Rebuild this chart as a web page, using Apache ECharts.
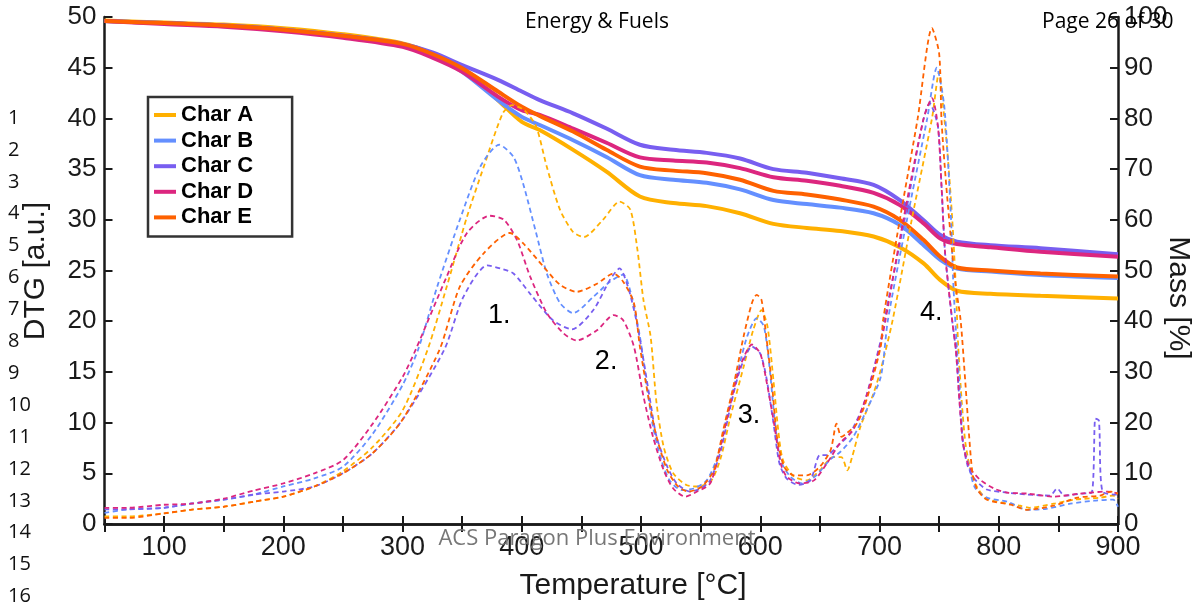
<!DOCTYPE html>
<html>
<head>
<meta charset="utf-8">
<script src="https://cdn.jsdelivr.net/npm/echarts@6/dist/echarts.min.js"></script>
</head>
<body style="margin:0;background:#fff">
<div id="chart" style="width:1196px;height:606px"></div>
<script>
// mass curves (right axis, %), common temperature grid
const massTemp = [50,100,150,200,250,300,325,350,380,400,415,443,471,499,527,555,583,611,639,667,695,717,737,751,765,793,835,900];
const massA = [99.3,98.9,98.5,97.8,96.6,94.8,92.8,89.9,83.6,79.3,77.7,73.8,69.5,64.6,63.3,62.7,61.3,59.2,58.4,57.8,56.7,54.6,51.4,48.1,46.0,45.4,45.0,44.5];
const massB = [99.2,98.8,98.3,97.5,96.3,94.6,92.5,89.2,83.6,80.3,78.7,75.7,72.4,68.8,67.9,67.3,66.0,63.9,63.1,62.4,61.3,59.0,55.0,52.1,50.4,49.8,49.1,48.5];
const massC = [99.2,98.8,98.3,97.5,96.3,94.7,93.0,90.5,87.6,85.3,83.6,81.0,78.0,74.8,73.8,73.2,72.1,70.0,69.3,68.2,66.9,63.9,59.9,57.0,55.7,55.0,54.4,53.2];
const massD = [99.2,98.6,98.1,97.2,95.9,94.1,92.0,89.2,84.3,81.6,80.7,78.0,75.2,72.3,71.7,71.3,70.2,68.4,67.7,66.7,65.3,62.9,59.3,56.3,55.2,54.6,53.7,52.7];
const massE = [99.2,98.8,98.3,97.5,96.3,94.7,92.7,89.9,85.3,82.3,80.5,77.4,73.8,70.5,69.7,69.2,67.9,65.7,65.0,64.0,62.6,60.0,56.0,52.7,50.6,50.0,49.4,48.8];

// DTG curves (left axis), [temperature, value]
const dtgA = [[50,0.75],[70,0.75],[100,1.05],[122,1.4],[150,1.7],[175,2.2],[200,2.7],[226,3.7],[250,5.2],[275,7.6],[300,11.2],[321,17.2],[337,23.4],[354,30.3],[368,35.2],[384,40.5],[392,41.3],[402,40.8],[412,39.2],[421,35.2],[432,31.0],[443,28.8],[452,28.3],[468,30.0],[482,31.8],[491,31.0],[497,27.0],[502,22.1],[508,18.5],[513,11.9],[519,7.6],[527,5.0],[538,3.85],[548,3.7],[559,4.3],[567,6.6],[575,10.6],[586,15.5],[594,19.1],[601,21.1],[606,19.5],[611,14.2],[615,9.3],[619,6.3],[628,4.7],[639,4.3],[650,5.3],[661,6.6],[668,6.6],[673,5.3],[677,6.6],[684,9.6],[695,12.9],[701,15.2],[711,20.1],[727,30.0],[744,40.0],[750,44.6],[753,41.6],[757,36.6],[761,30.0],[764,23.4],[766,17.5],[769,12.0],[772,8.0],[776,5.5],[781,3.8],[790,2.5],[818,1.8],[826,1.6],[846,2.0],[863,2.4],[885,2.6],[896,2.8],[900,2.5]];
const dtgB = [[50,1.1],[70,1.45],[100,1.6],[122,2.0],[150,2.4],[175,2.9],[200,3.7],[226,4.5],[250,5.65],[275,8.9],[300,13.7],[313,17.2],[329,23.4],[348,30.0],[365,35.2],[381,37.4],[393,36.2],[401,33.6],[412,28.7],[421,24.7],[432,21.8],[443,20.8],[460,22.4],[474,23.9],[485,24.6],[492,22.5],[499,18.5],[505,13.5],[510,9.6],[517,6.3],[524,4.3],[534,3.35],[544,3.5],[555,4.3],[564,6.6],[572,10.6],[580,14.5],[589,18.5],[597,20.3],[603,19.5],[608,15.2],[612,10.3],[617,6.3],[625,4.7],[635,4.0],[647,4.8],[658,6.3],[667,7.1],[678,8.6],[689,11.2],[701,14.5],[707,20.1],[723,30.0],[740,40.0],[748,45.0],[754,41.5],[757,36.6],[760,30.0],[762,23.4],[765,17.2],[768,12.2],[770,8.0],[775,5.7],[780,3.6],[790,2.6],[807,2.2],[824,1.4],[840,1.5],[860,2.0],[880,2.3],[896,2.4],[900,1.7]];
const dtgC = [[50,1.45],[70,1.45],[100,1.6],[122,2.0],[150,2.4],[175,2.9],[200,3.2],[226,3.7],[250,5.0],[275,7.0],[300,10.3],[335,17.2],[351,22.4],[371,25.5],[382,25.2],[393,24.7],[407,22.7],[426,20.1],[442,19.2],[460,21.1],[474,24.1],[482,25.2],[489,23.4],[496,20.1],[502,16.2],[508,11.9],[513,8.6],[522,5.65],[530,4.0],[541,3.2],[550,3.5],[558,4.3],[567,7.3],[575,11.6],[583,15.2],[593,17.5],[600,16.8],[605,14.5],[611,10.0],[616,6.0],[622,4.5],[632,3.85],[642,4.3],[650,6.8],[656,6.8],[664,7.6],[675,8.9],[687,11.9],[701,18.1],[704,20.1],[721,30.0],[736,39.5],[742,41.5],[749,39.2],[752,33.3],[755,26.7],[761,20.0],[764,17.2],[767,12.2],[770,8.0],[774,5.7],[780,4.4],[790,3.4],[807,3.1],[824,2.9],[843,2.8],[849,3.5],[855,2.8],[870,3.0],[878,3.1],[881,10.4],[884,10.2],[887,3.2],[900,2.9]];
const dtgD = [[50,1.6],[70,1.6],[100,1.9],[122,2.0],[150,2.5],[175,3.3],[200,4.0],[226,5.0],[250,6.3],[275,9.9],[300,14.5],[311,17.2],[337,24.4],[354,28.7],[373,30.4],[385,30.0],[396,28.0],[407,24.4],[421,20.8],[435,18.8],[446,18.1],[463,19.1],[477,20.6],[485,20.1],[494,17.5],[502,12.6],[510,8.6],[519,5.3],[527,3.5],[537,2.7],[547,3.2],[558,4.0],[566,7.3],[575,11.9],[583,15.5],[593,17.7],[600,16.8],[605,14.2],[611,10.3],[617,6.0],[622,4.7],[633,4.0],[645,4.3],[656,6.0],[667,8.0],[678,9.3],[689,12.6],[701,17.8],[705,20.1],[720,30.0],[737,40.0],[744,42.0],[749,39.2],[752,33.3],[755,26.7],[761,20.0],[764,17.2],[767,12.2],[770,8.0],[775,5.7],[784,4.4],[796,3.5],[807,3.1],[824,3.0],[846,2.7],[868,3.0],[891,3.2],[900,3.0]];
const dtgE = [[50,0.6],[70,0.6],[100,1.05],[122,1.4],[150,1.7],[175,2.2],[200,2.7],[226,3.7],[250,5.0],[275,7.0],[300,10.3],[331,17.2],[348,23.4],[368,26.7],[390,28.7],[401,27.7],[418,25.4],[432,23.6],[446,22.9],[463,23.7],[477,24.7],[485,23.9],[494,21.8],[499,17.5],[506,12.6],[513,8.6],[522,5.3],[531,3.7],[540,3.2],[551,3.7],[561,5.3],[569,9.3],[578,13.9],[586,18.5],[593,21.8],[597,22.6],[601,22.1],[605,18.5],[610,13.5],[614,8.6],[620,5.65],[628,4.8],[639,4.8],[650,5.65],[659,7.3],[664,9.9],[668,8.6],[672,8.9],[681,9.9],[689,12.2],[701,17.5],[703,20.1],[717,30.0],[732,40.0],[744,48.9],[750,46.4],[752,39.8],[756,33.3],[761,26.7],[764,23.4],[768,20.1],[772,13.9],[775,8.9],[778,5.0],[782,3.4],[790,2.4],[810,1.9],[824,1.4],[846,1.8],[866,2.6],[885,2.8],[894,3.2],[900,3.0]];

const names = ['Char A','Char B','Char C','Char D','Char E'];
const colors = ['#FFB000','#648FFF','#785EF0','#DC267F','#FE6100'];
const massSets = [massA, massB, massC, massD, massE];
const dtgSets = [dtgA, dtgB, dtgC, dtgD, dtgE];
// peak annotations: [temperature, DTG, text]
const peakNotes = [[381,20.6,'1.'],[470.7,16.0,'2.'],[590.6,10.65,'3.'],[743.4,20.9,'4.']];

const chart = echarts.init(document.getElementById('chart'), null, {renderer: 'canvas'});

const axisFont = '"Liberation Sans", Arial, sans-serif';
const series = [];
names.forEach(function (n, i) {
	series.push({
		name: n, type: 'line', xAxisIndex: 0, yAxisIndex: 1,
		data: massTemp.map(function (t, k) { return [t, massSets[i][k]]; }),
		showSymbol: false, smooth: 0.3,
		lineStyle: {color: colors[i], width: 4},
		itemStyle: {color: colors[i]},
		z: 2
	});
});
names.forEach(function (n, i) {
	series.push({
		name: n + ' DTG', type: 'line', xAxisIndex: 0, yAxisIndex: 0,
		data: dtgSets[i],
		showSymbol: false, smooth: 0.25,
		lineStyle: {color: colors[i], width: 1.8, type: [5, 3.5]},
		itemStyle: {color: colors[i]},
		z: 3
	});
});
series.push({
	name: 'notes', type: 'scatter', xAxisIndex: 0, yAxisIndex: 0,
	data: peakNotes.map(function (p) { return {value: [p[0], p[1]], label: {formatter: p[2]}}; }),
	symbolSize: 1, itemStyle: {opacity: 0},
	label: {show: true, position: 'inside', fontSize: 27, fontFamily: axisFont, color: '#000', opacity: 1, textBorderWidth: 0},
	silent: true, z: 5
});

const lineNums = [];
for (let i = 1; i <= 16; i++) {
	lineNums.push({
		type: 'text', x: 8, y: 118 + (i - 1) * 31.9,
		style: {text: String(i), font: '20px "Open Sans", sans-serif', fill: '#111', textVerticalAlign: 'middle'}
	});
}

const option = {
	animation: false,
	backgroundColor: '#fff',
	color: colors,
	grid: {left: 104.5, right: 78, top: 17, bottom: 82, containLabel: false, outerBoundsMode: 'none'},
	legend: {
		data: names, orient: 'vertical', left: 148, top: 97,
		icon: 'rect', itemWidth: 22, itemHeight: 4, itemGap: 3.6,
		padding: [7, 39, 8, 6],
		borderColor: '#333', borderWidth: 2.5, backgroundColor: '#fff',
		textStyle: {fontSize: 22, fontWeight: 'bold', fontFamily: axisFont, color: '#000', lineHeight: 22},
		selectedMode: false
	},
	xAxis: [{
		type: 'value', min: 50, max: 900, interval: 50, position: 'bottom',
		axisLine: {lineStyle: {color: '#1a1a1a', width: 2.5}},
		axisTick: {inside: true, length: 8, lineStyle: {color: '#1a1a1a', width: 2}},
		axisLabel: {
			fontSize: 27, fontFamily: axisFont, color: '#1a1a1a', margin: 10,
			formatter: function (v) { return (v % 100 === 0) ? String(v) : ''; }
		},
		splitLine: {show: false}
	}, {
		type: 'value', min: 50, max: 900, interval: 50, position: 'top',
		axisLine: {lineStyle: {color: '#1a1a1a', width: 2.5}},
		axisTick: {inside: true, length: 8, lineStyle: {color: '#1a1a1a', width: 2}},
		axisLabel: {show: false},
		splitLine: {show: false}
	}],
	yAxis: [{
		type: 'value', min: 0, max: 50, interval: 5, position: 'left',
		axisLine: {show: true, lineStyle: {color: '#1a1a1a', width: 2.5}},
		axisTick: {show: true, inside: true, length: 8, lineStyle: {color: '#1a1a1a', width: 2}},
		axisLabel: {fontSize: 26, fontFamily: axisFont, color: '#1a1a1a', margin: 8},
		splitLine: {show: false}
	}, {
		type: 'value', min: 0, max: 100, interval: 10, position: 'right',
		axisLine: {show: true, lineStyle: {color: '#1a1a1a', width: 2.5}},
		axisTick: {show: true, inside: true, length: 8, lineStyle: {color: '#1a1a1a', width: 2}},
		axisLabel: {fontSize: 26, fontFamily: axisFont, color: '#1a1a1a', margin: 6},
		splitLine: {show: false}
	}],
	graphic: lineNums.concat([
		{type: 'text', x: 36, y: 271, rotation: Math.PI / 2,
			style: {text: 'DTG [a.u.]', font: '30px "Liberation Sans", Arial, sans-serif', fill: '#1a1a1a', textAlign: 'center', textVerticalAlign: 'middle'}},
		{type: 'text', x: 1178, y: 298, rotation: -Math.PI / 2,
			style: {text: 'Mass [%]', font: '30px "Liberation Sans", Arial, sans-serif', fill: '#1a1a1a', textAlign: 'center', textVerticalAlign: 'middle'}},
		{type: 'text', x: 633, y: 586,
			style: {text: 'Temperature [°C]', font: '30px "Liberation Sans", Arial, sans-serif', fill: '#1a1a1a', textAlign: 'center', textVerticalAlign: 'middle'}},
		{type: 'text', x: 597, y: 22, z: 10,
			style: {text: 'Energy & Fuels', font: '21px "Open Sans", sans-serif', fill: '#000', textAlign: 'center', textVerticalAlign: 'middle'}},
		{type: 'text', x: 1042, y: 22, z: 10,
			style: {text: 'Page 26 of 30', font: '21px "Open Sans", sans-serif', fill: '#000', textAlign: 'left', textVerticalAlign: 'middle'}},
		{type: 'text', x: 597, y: 539, z: 10,
			style: {text: 'ACS Paragon Plus Environment', font: '22px "Open Sans", sans-serif', fill: '#777', textAlign: 'center', textVerticalAlign: 'middle'}}
	]),
	series: series
};
chart.setOption(option);
</script>
</body>
</html>
